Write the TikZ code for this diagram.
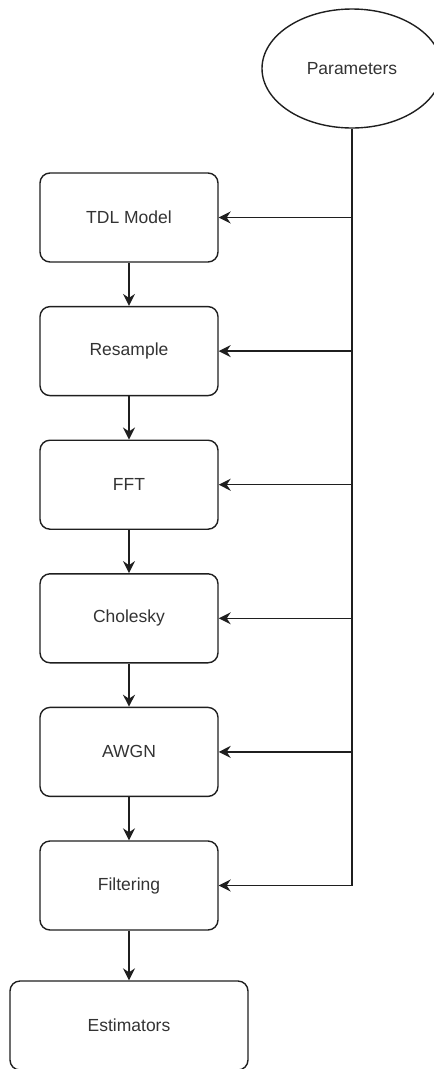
\documentclass[tikz,border=0pt]{standalone}
\usepackage{fontspec}
\setmainfont{Liberation Sans}
\usepackage{tikz}
\usetikzlibrary{positioning,arrows.meta,shapes.geometric}

\begin{document}
\begin{tikzpicture}[
  x=1pt, y=1pt,
  every node/.style={font=\fontsize{17.5}{21}\selectfont, text=black!80},
  box/.style={draw=black!88, line width=1.4pt, rounded corners=10pt, minimum width=178pt, minimum height=89pt, inner sep=4pt, align=center},
  flow/.style={draw=black!88, line width=1.5pt, -{Stealth[length=12pt, width=12pt, inset=4pt]}}
]
\useasboundingbox (0,0) rectangle (434,-1069);
\node[draw=black!88, line width=1.4pt, ellipse, minimum width=180pt, minimum height=119pt] (par) at (352,-68.5) {Parameters};
\node[box] (tdl) at (129,-217.5) {TDL Model};
\node[box, below=43.2pt of tdl] (res) {Resample};
\node[box, below=43.2pt of res] (fft) {FFT};
\node[box, below=43.2pt of fft] (chol) {Cholesky};
\node[box, below=43.2pt of chol] (awgn) {AWGN};
\node[box, below=43.2pt of awgn] (filt) {Filtering};
\node[box, minimum width=238pt, below=49.6pt of filt] (est) {Estimators};
% chain of blocks
\draw[flow] (tdl) -- (res);
\draw[flow] (res) -- (fft);
\draw[flow] (fft) -- (chol);
\draw[flow] (chol) -- (awgn);
\draw[flow] (awgn) -- (filt);
\draw[flow] (filt) -- (est);
% parameters feed every block
\draw[flow] (par.south) |- (filt.east);
\draw[flow] (par.south |- tdl.east) -- (tdl.east);
\draw[flow] (par.south |- res.east) -- (res.east);
\draw[flow] (par.south |- fft.east) -- (fft.east);
\draw[flow] (par.south |- chol.east) -- (chol.east);
\draw[flow] (par.south |- awgn.east) -- (awgn.east);
\end{tikzpicture}
\end{document}
